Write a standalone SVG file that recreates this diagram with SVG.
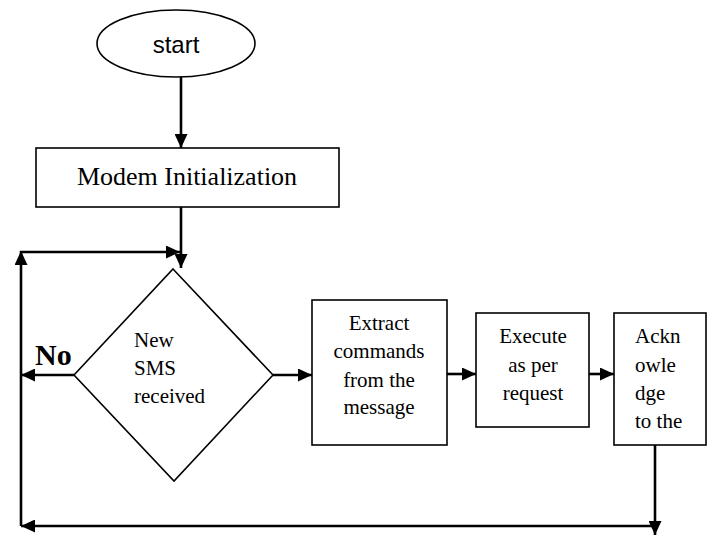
<svg xmlns="http://www.w3.org/2000/svg" width="711" height="536" viewBox="0 0 711 536">
  <style>
    .shape { fill: #fff; stroke: #000; stroke-width: 1.6; }
    .flow { fill: none; stroke: #000; stroke-width: 2.6; }
    .serif { font-family: "Liberation Serif", "Times New Roman", serif; fill: #000; }
    .sans { font-family: "Liberation Sans", Arial, sans-serif; fill: #000; }
    .mid { text-anchor: middle; }
    .body { font-size: 21px; }
  </style>
  <defs>
    <marker id="arrow" markerUnits="userSpaceOnUse" markerWidth="15" markerHeight="13" refX="14" refY="6.5" orient="auto">
      <path d="M0,0 L14,6.5 L0,13 Z" fill="#000"/>
    </marker>
  </defs>

  <rect width="711" height="536" fill="#fff"/>

  <g id="connectors">
    <!-- start to modem -->
    <line class="flow" x1="181" y1="77" x2="181" y2="148" marker-end="url(#arrow)"/>
    <!-- modem to decision -->
    <line class="flow" x1="181" y1="207" x2="181" y2="268" marker-end="url(#arrow)"/>
    <!-- loop back: up the left side and across to the decision -->
    <line class="flow" x1="21" y1="526" x2="21" y2="251" marker-end="url(#arrow)"/>
    <line class="flow" x1="20" y1="252" x2="180" y2="252" marker-end="url(#arrow)"/>
    <!-- No branch -->
    <line class="flow" x1="74" y1="375" x2="21" y2="375" marker-end="url(#arrow)"/>
    <!-- yes branch -->
    <line class="flow" x1="273" y1="375" x2="312" y2="375" marker-end="url(#arrow)"/>
    <line class="flow" x1="447" y1="374" x2="476" y2="374" marker-end="url(#arrow)"/>
    <line class="flow" x1="589" y1="374" x2="614" y2="374" marker-end="url(#arrow)"/>
    <!-- acknowledge back to the loop -->
    <line class="flow" x1="655" y1="445" x2="655" y2="535" marker-end="url(#arrow)"/>
    <line class="flow" x1="655" y1="526" x2="21" y2="526" marker-end="url(#arrow)"/>
  </g>

  <g id="start">
    <ellipse class="shape" cx="176" cy="43.5" rx="79" ry="33.5"/>
    <text class="sans mid" x="176" y="53" font-size="24">start</text>
  </g>

  <g id="modem-init">
    <rect class="shape" x="36" y="148" width="303" height="59"/>
    <text class="serif mid" x="187" y="185" font-size="26">Modem Initialization</text>
  </g>

  <g id="new-sms">
    <polygon class="shape" points="173,269 273,375 174,481 74,375"/>
    <text class="serif body" x="134" y="347">New</text>
    <text class="serif body" x="134" y="375">SMS</text>
    <text class="serif body" x="134" y="403">received</text>
  </g>

  <g id="no-label">
    <text class="serif" x="35" y="365" font-size="30" font-weight="bold">No</text>
  </g>

  <g id="extract">
    <rect class="shape" x="312" y="300" width="135" height="145"/>
    <text class="serif mid body" x="379" y="330">Extract</text>
    <text class="serif mid body" x="379" y="358">commands</text>
    <text class="serif mid body" x="379" y="387">from the</text>
    <text class="serif mid body" x="379" y="414">message</text>
  </g>

  <g id="execute">
    <rect class="shape" x="476" y="313" width="113" height="114"/>
    <text class="serif mid body" x="533" y="343">Execute</text>
    <text class="serif mid body" x="533" y="372">as per</text>
    <text class="serif mid body" x="533" y="400">request</text>
  </g>

  <g id="acknowledge">
    <rect class="shape" x="614" y="313" width="92" height="132"/>
    <text class="serif body" x="635" y="343">Ackn</text>
    <text class="serif body" x="635" y="372">owle</text>
    <text class="serif body" x="635" y="400">dge</text>
    <text class="serif body" x="635" y="428">to the</text>
  </g>
</svg>
